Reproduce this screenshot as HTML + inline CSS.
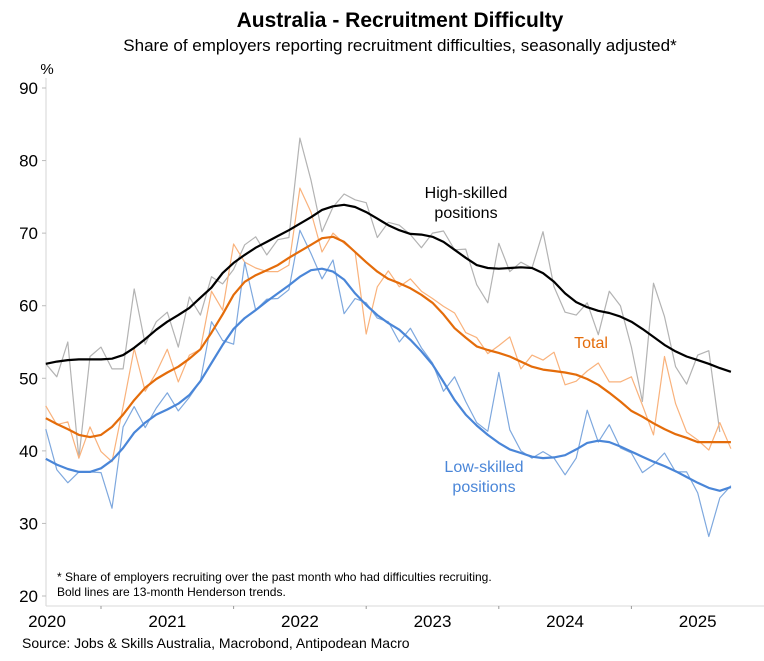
<!DOCTYPE html>
<html><head><meta charset="utf-8"><style>
body{margin:0;background:#fff;}
svg{display:block;font-family:"Liberation Sans",Arial,sans-serif;}
</style></head><body>
<svg id="chart" width="764" height="661" viewBox="0 0 764 661">
<text x="400" y="27" text-anchor="middle" font-size="21" font-weight="bold">Australia - Recruitment Difficulty</text>
<text x="400" y="51" text-anchor="middle" font-size="17">Share of employers reporting recruitment difficulties, seasonally adjusted*</text>
<text x="47" y="74" text-anchor="middle" font-size="15">%</text>
<line x1="46" y1="78" x2="46" y2="606" stroke="#e3e3e3" stroke-width="1.5"/>
<line x1="46" y1="606" x2="764" y2="606" stroke="#d8d8d8" stroke-width="1"/>
<g id="yticks"></g><g id="xticks"></g><g id="series"></g>
<text x="466" y="198" text-anchor="middle" font-size="16">High-skilled</text>
<text x="466" y="218" text-anchor="middle" font-size="16">positions</text>
<text x="591" y="348" text-anchor="middle" font-size="16" fill="#e46c0a">Total</text>
<text x="484" y="472" text-anchor="middle" font-size="16" fill="#4a86d8">Low-skilled</text>
<text x="484" y="492" text-anchor="middle" font-size="16" fill="#4a86d8">positions</text>
<text x="57" y="581" font-size="12">* Share of employers recruiting over the past month who had difficulties recruiting.</text>
<text x="57" y="596" font-size="12">Bold lines are 13-month Henderson trends.</text>
<text x="22" y="648" font-size="14">Source: Jobs &amp; Skills Australia, Macrobond, Antipodean Macro</text>
</svg>
<script>
const yTicks=[20,30,40,50,60,70,80,90];
const years=["2020","2021","2022","2023","2024","2025"];
const startMonth=7; // Aug 2020 (months since Jan 2020)
const highRaw=[52.0,50.2,55,39,53,54.3,51.3,51.3,62.3,54.7,57.8,59.1,54.3,61.2,58.7,64.0,63,65,68.4,69.5,67,69.1,69.4,83.1,77.3,70.2,73.6,75.4,74.6,74.2,69.4,71.5,71.1,69.8,68,70,70.3,67.7,67.8,62.9,60.4,68.6,64.7,66,65.2,70.2,62.6,59.1,58.7,60.4,56,62,60,54.3,46.8,63.1,58.5,51.6,49.2,53.2,53.8,42.6];
const totalRaw=[46.2,43.6,44,39,43.3,39.9,38.5,46.1,54.1,48.2,50.8,54,49.5,53.2,54,62,59.4,68.5,66,65.2,64.7,64.7,65.6,76.2,72.9,67.4,70,68.6,67.4,56.1,62.6,64.8,62.6,63.7,62,61,59.9,59,56.3,55.6,53.4,54.5,55.7,51.3,53.2,52.5,53.6,49.1,49.6,51,52.1,49.5,49.5,50.2,46.3,42.2,53,46.5,42.6,41.5,40.1,43.9,40.3];
const lowRaw=[43,37.4,35.6,37.1,37.1,37,32.1,43.3,46.1,43.2,45.9,48,45.5,47.4,49.6,57.8,55.2,54.7,66,59.4,60.9,61,62.2,70.4,67.2,63.7,66.3,58.9,61,60.4,58.3,57.8,55,56.9,54.2,52.1,48.2,50.2,46.8,43.9,42.7,50.8,42.9,40,39,39.9,39,36.7,39,45.6,41.2,43.6,40.4,39.7,37,38.1,39.7,37.1,37.1,34.2,28.2,33.5,35.2];
const highTrend=[52,52.3,52.5,52.6,52.6,52.6,52.7,53.2,54.2,55.4,56.7,57.8,58.7,59.7,61.1,62.5,64.5,65.9,67,68,68.8,69.6,70.4,71.3,72.2,73.2,73.7,73.9,73.6,72.9,72,71.1,70.4,69.9,69.8,69.5,68.8,67.7,66.6,65.6,65.2,65.1,65.2,65.3,65.2,64.5,63.3,61.7,60.5,59.8,59.3,59,58.5,57.8,56.8,55.7,54.6,53.7,53,52.5,52,51.4,50.9];
const totalTrend=[44.5,43.7,43,42.2,41.9,42.2,43.3,45,47,48.7,49.9,50.8,51.6,52.7,54,56.3,58.8,61.5,63.3,64.2,64.9,65.6,66.6,67.5,68.4,69.3,69.5,68.8,67.4,66,64.7,63.7,63.1,62.4,61.5,60.4,58.8,56.9,55.6,54.4,53.9,53.5,53,52.3,51.6,51.2,51,50.8,50.5,49.9,49.1,48,46.8,45.5,44.7,43.8,43,42.3,41.8,41.2,41.2,41.2,41.2];
const lowTrend=[38.9,38.1,37.5,37.1,37.1,37.6,38.7,40.4,42.5,43.9,45,45.7,46.5,47.7,49.6,52.1,54.6,56.8,58.3,59.4,60.6,61.7,62.8,64,64.9,65.1,64.7,63.6,61.7,60.1,58.7,57.6,56.7,55.3,53.7,51.9,49.5,47,45,43.5,42.2,41.1,40.2,39.7,39.2,39,39.1,39.4,40.2,41.1,41.4,41.2,40.6,39.9,39.2,38.5,37.9,37.2,36.4,35.6,34.9,34.5,35];

const NS="http://www.w3.org/2000/svg";
const yTop=88,yBot=596,vTop=90,vBot=20;
function yScale(v){return yBot-(v-vBot)*(yBot-yTop)/(vTop-vBot);}
const jan2021X=101,yearW=132.6;
function xScale(m){return jan2021X+(m-12)*yearW/12;} // m = months since Jan 2020
function mk(tag,attrs,parent){const e=document.createElementNS(NS,tag);for(const k in attrs)e.setAttribute(k,attrs[k]);parent.appendChild(e);return e;}

const yg=document.getElementById('yticks');
yTicks.forEach(v=>{
  const t=mk('text',{x:38,y:yScale(v)+6,'text-anchor':'end','font-size':17},yg);
  t.textContent=v;
  
  
  const l=mk('line',{x1:42,x2:46,y1:yScale(v),y2:yScale(v),stroke:'#bbb'},yg);
  
  
});
const xg=document.getElementById('xticks');
years.forEach((yr,i)=>{
  const x0=xScale(i*12),x1=xScale(i*12+12);
  const cx=i===0?47:(x0+x1)/2;
  const t=mk('text',{x:cx,y:627,'text-anchor':'middle','font-size':17},xg);
  t.textContent=yr;
  
  
  if(i>0){
    const l=mk('line',{x1:x0,x2:x0,y1:606,y2:609,stroke:'#999'},xg);
    
    
  }
});
const sg=document.getElementById('series');
function line(data,color,w,name){
  const d=data.map((v,i)=>(i?'L':'M')+xScale(startMonth+i).toFixed(1)+','+yScale(v).toFixed(1)).join('');
  const p=mk('path',{d:d,fill:'none',stroke:color,'stroke-width':w,'stroke-linejoin':'round'},sg);
  
  
}
line(highRaw,'#b3b3b3',1.2,'high-skilled-raw-line');
line(totalRaw,'#f9b27c',1.2,'total-raw-line');
line(lowRaw,'#7ea8de',1.2,'low-skilled-raw-line');
line(highTrend,'#000',2.2,'high-skilled-trend-line');
line(totalTrend,'#e46c0a',2.2,'total-trend-line');
line(lowTrend,'#4a86d8',2.2,'low-skilled-trend-line');
</script>
</body></html>
